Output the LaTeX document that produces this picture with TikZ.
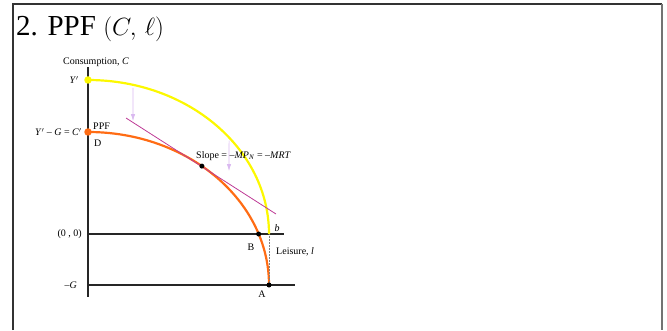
\documentclass[tikz,border=0pt]{standalone}
\usepackage{fontspec}
\setmainfont{Liberation Serif}
\usetikzlibrary{positioning,arrows.meta,calc}
\definecolor{ppforange}{RGB}{255,108,20}
\definecolor{ppfyellow}{RGB}{252,248,0}
\definecolor{tanpurple}{RGB}{190,60,150}
\definecolor{shiftviolet}{RGB}{218,185,240}
\tikzset{
  axisline/.style={line width=1.7pt, black!85},
  ppfcurve/.style={line width=2.2pt, ppforange},
  endowcurve/.style={line width=2.2pt, ppfyellow},
  tanline/.style={line width=0.8pt, tanpurple},
  shiftarrow/.style={-{Latex[length=2.4mm,width=1.5mm]}, line width=0.6pt, shiftviolet},
  dotnode/.style={circle, fill=black, inner sep=0pt, minimum size=5pt},
  bigdot/.style={circle, inner sep=0pt, minimum size=7.5pt},
  lbl/.style={font=\fontsize{10}{11}\selectfont, inner sep=1pt}
}

\begin{document}
\begin{tikzpicture}[x=1pt, y=1pt]
  \useasboundingbox (0,0) rectangle (667,330);
  % slide frame
  \draw[line width=1.3pt, black!80] (13,0) -- (13,326) -- (662,326);
  \draw[line width=1.8pt, black!55] (662,326) -- (662,0);
  \node[anchor=base west, inner sep=0pt, font=\fontsize{29}{33}\selectfont] (title) at (16,294) {2. PPF $(C,\,\ell)$};

  % axes
  \coordinate (O) at (88,96);
  \coordinate (Og) at (88,45);
  \coordinate (ytop) at (88,263);
  \coordinate (ybot) at (88,33);
  \coordinate (xend) at (284,96);
  \coordinate (gend) at (295,45);
  \draw[axisline] (ytop) -- (ybot);
  \draw[axisline] (O) -- (xend);
  \draw[axisline] (Og) -- (gend);

  % curves
  \coordinate (Yp) at (88,250);
  \coordinate (Cp) at (88,198);
  \coordinate (bpt) at ($(O)+(0:181pt and 154pt)$);
  \draw[endowcurve] (Yp) arc[start angle=90, end angle=0, x radius=181pt, y radius=154pt];
  \draw[ppfcurve] (Cp) arc[start angle=90, end angle=0, x radius=181pt, y radius=153pt];
  \draw[gray, densely dotted, line width=0.5pt] (bpt) -- ($(Og)+(0:181pt and 153pt)$);

  % tangent and shift arrows
  \coordinate (tanA) at (126,212);
  \coordinate (tanB) at (276,116);
  \draw[tanline] (tanA) -- (tanB);
  \coordinate (s1a) at ($(O)+(75.6:181pt and 154pt)+(0,-3)$);
  \coordinate (s1b) at (133,209);
  \coordinate (s2a) at ($(O)+(38.8:181pt and 154pt)+(0,-3)$);
  \coordinate (s2b) at (229,159);
  \draw[shiftarrow] (s1a) -- (s1b);
  \draw[shiftarrow] (s2a) -- (s2b);

  % points
  \node[bigdot, fill=ppfyellow] (ydot) at (Yp) {};
  \node[bigdot, fill=ppforange] (cdot) at (Cp) {};
  \node[dotnode] (T) at ($(Og)+(51:181pt and 153pt)$) {};
  \node[dotnode] (B) at ($(Og)+(19.47:181pt and 153pt)$) {};
  \node[dotnode] (A) at ($(Og)+(0:181pt and 153pt)$) {};

  % labels
  \node[lbl] (clab) at (96,268) {Consumption, \textit{C}};
  \node[lbl, anchor=east] (ylab) at (80,250) {\textit{Y}$'$};
  \node[lbl, anchor=east] (cplab) at (83,198) {\textit{Y}$'$ – \textit{G} = \textit{C}$'$};
  \node[lbl, anchor=west] (ppflab) at (92,204) {PPF};
  \node[lbl, anchor=west] (dlab) at (93,187) {D};
  \node[lbl, anchor=west] (slope) at (195,174) {Slope = –\textit{MP}\textsubscript{\textit{N}} = –\textit{MRT}};
  \node[lbl, anchor=east] (olab) at (83,96) {(0 , 0)};
  \node[lbl, anchor=east] (glab) at (78,45) {–\textit{G}};
  \node[lbl] (blab) at (251,83) {B};
  \node[lbl, anchor=west] (leis) at (275,78) {Leisure, \textit{l}};
  \node[lbl] (alab) at (262,36) {A};
  \node[lbl] (hlab) at (277,102) {\textit{b}};
\end{tikzpicture}
\end{document}
